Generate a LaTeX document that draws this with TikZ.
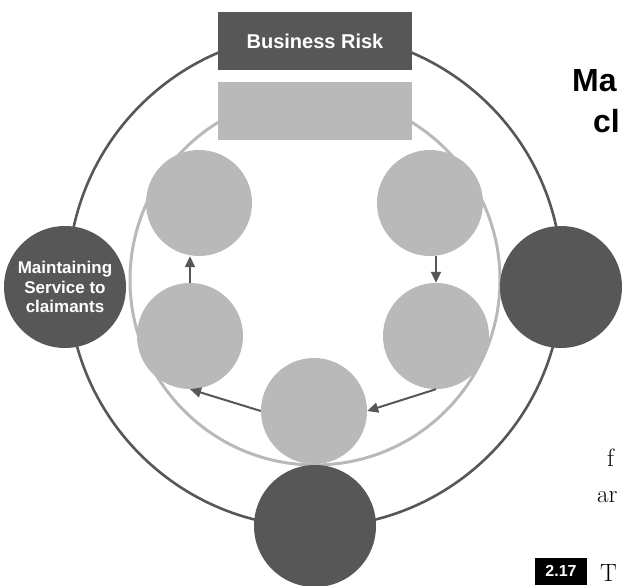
\documentclass[tikz,border=0pt]{standalone}
\usepackage{fontspec}
\newfontfamily\labelfont{Liberation Sans}
\usetikzlibrary{arrows.meta, positioning}
\definecolor{riskgray}{HTML}{575757}
\definecolor{stepgray}{HTML}{B9B9B9}

\begin{document}
\begin{tikzpicture}[x=1pt, y=-1pt,
    darkdot/.style={circle, fill=riskgray, minimum size=122pt, inner sep=0pt},
    lightdot/.style={circle, fill=stepgray, minimum size=106pt, inner sep=0pt},
    bar/.style={minimum width=194pt, minimum height=58pt, inner sep=0pt},
    flow/.style={draw=riskgray, line width=2pt, -{Triangle[length=11pt, width=10pt]}},
    sidetext/.style={anchor=base west, inner sep=0pt}]
                        \useasboundingbox (0, 0) rectangle (622, 586);
                        \clip (0, 0) rectangle (622, 586);
                        \draw[riskgray, line width=2.6pt] (315, 280) circle [radius=247];
                        \draw[stepgray, line width=3pt] (315, 280) circle [radius=185];
                        \node[bar, fill=riskgray, text=white, font=\labelfont\bfseries\fontsize{20}{20}\selectfont] (risk) at (315, 41) {Business Risk};
                        \node[bar, fill=stepgray] (plan) at (315, 111) {};
                        \node[darkdot, text=white, align=center, font=\labelfont\bfseries\fontsize{17}{19.5}\selectfont] (serve) at (65, 287) {Maintaining\\Service to\\claimants};
                        \node[darkdot] (east) at (561, 287) {};
                        \node[darkdot] (south) at (315, 526) {};
                        \node[lightdot] (tl) at (199, 203) {};
                        \node[lightdot] (ml) at (190, 336) {};
                        \node[lightdot] (tr) at (430, 203) {};
                        \node[lightdot] (mr) at (436, 336) {};
                        \node[lightdot] (bot) at (314, 411) {};
                        \draw[flow] (tr.south -| mr.north) -- (mr.north);
                        \draw[flow] (mr.south) -- (bot.east);
                        \draw[flow] (bot.west) -- (ml.south);
                        \draw[flow] (ml.north) -- (ml.north |- tl.south);
                        \node[sidetext, font=\labelfont\bfseries\fontsize{32}{32}\selectfont] (headA) at (572, 92) {Ma};
                        \node[sidetext, font=\labelfont\bfseries\fontsize{32}{32}\selectfont] (headB) at (593, 132) {cl};
                        \node[sidetext, font=\fontsize{25}{25}\selectfont] (wordF) at (607, 466) {f};
                        \node[sidetext, font=\fontsize{25}{25}\selectfont] (wordAr) at (597, 502) {ar};
                        \node[fill=black, text=white, minimum width=52pt, minimum height=27pt, inner sep=0pt, font=\labelfont\bfseries\fontsize{16}{16}\selectfont] (sec) at (561, 571) {2.17};
                        \node[sidetext, font=\fontsize{25}{25}\selectfont] (wordT) at (600, 581) {T};
                    \end{tikzpicture}
\end{document}
